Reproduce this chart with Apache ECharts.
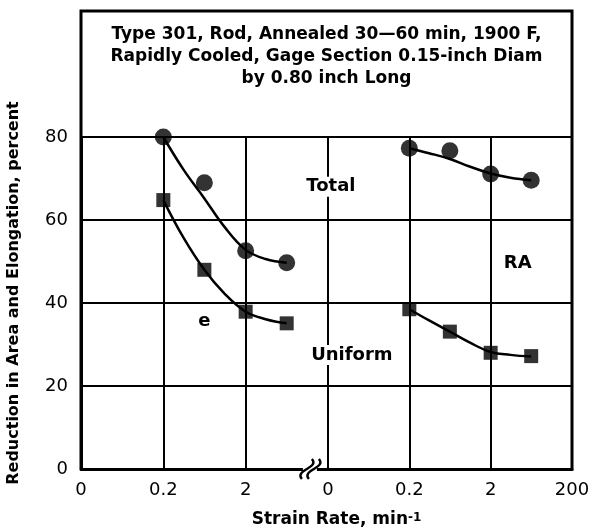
<!DOCTYPE html>
<html>
<head>
<meta charset="utf-8">
<script src="https://cdn.jsdelivr.net/npm/echarts@6/dist/echarts.min.js"></script>
<style>html,body{margin:0;padding:0;background:#fff;}#c{width:596px;height:531px;}</style>
</head>
<body>
<div id="c"></div>
<script>
// ---- data ----
const titleLines = ["Type 301, Rod, Annealed 30\u201460 min, 1900 F,", "Rapidly Cooled, Gage Section 0.15-inch Diam", "by 0.80 inch Long"];
const yTitle = "Reduction in Area and Elongation, percent";
const xTitle = "Strain Rate, min";
const leftTickLabels = ["0", "0.2", "2", ""];
const rightTickLabels = ["0", "0.2", "2", "200"];
// measured points
const strainRate = [0.2, 0.63, 2, 6.3];
const leftTotal = [80, 69, 52.6, 49.7];
const leftUniform = [64.8, 48, 37.9, 35.1];
const rightTotal = [77.3, 76.7, 71.1, 69.6];
const rightUniform = [38.5, 33.1, 28.0, 27.2];
// faired curves at these strain rates
const curveRate = [0.2, 0.35, 0.63, 1.1, 2, 3.5, 6.3];
const leftTotalCurve = [80, 72.2, 65.2, 58.4, 52.8, 50.6, 49.7];
const leftUniformCurve = [64.8, 55.8, 48, 42.3, 37.9, 36.1, 35.1];
const rightTotalCurve = [77.3, 76.1, 74.7, 72.9, 71.2, 70.2, 69.6];
const rightUniformCurve = [38.5, 35.8, 33.1, 30.5, 28.2, 27.5, 27.1];
const yTicks = [0, 20, 40, 60, 80];

const FONT = '"DejaVu Sans", Verdana, sans-serif';
const pairs = (xs, ys) => xs.map((x, i) => [x, ys[i]]);

const chart = echarts.init(document.getElementById('c'), null, {renderer: 'canvas'});

function helperAxis(gridIndex, labels) {
  return {
    type: 'value', gridIndex, position: 'bottom', min: 0, max: labels.length - 1, interval: 1,
    axisLine: {show: true, lineStyle: {color: '#000', width: 3}},
    axisTick: {show: false},
    axisLabel: {show: true, color: '#000', fontSize: 18, fontFamily: FONT, margin: 12,
      formatter: v => labels[Math.round(v)] ?? ''},
    splitLine: {show: true, lineStyle: {color: '#000', width: 2}}
  };
}
function logAxis(gridIndex) {
  return {type: 'log', logBase: 10, gridIndex, min: 0.02, max: 20, show: false};
}
function curve(xi, yi, ys) {
  return {type: 'line', xAxisIndex: xi, yAxisIndex: yi, data: pairs(curveRate, ys), smooth: 0.4, showSymbol: false,
    lineStyle: {color: '#000', width: 2.5}, z: 3, silent: true};
}
function marks(xi, yi, ys, symbol, size) {
  return {type: 'scatter', xAxisIndex: xi, yAxisIndex: yi, data: pairs(strainRate, ys), symbol, symbolSize: size,
    itemStyle: {color: '#000'}, z: 4};
}

const option = {
  animation: false,
  backgroundColor: '#fff',
  grid: [
    {left: 81, top: 137, width: 247, bottom: 62},
    {left: 328, top: 137, right: 24, bottom: 62}
  ],
  xAxis: [logAxis(0), helperAxis(0, leftTickLabels), logAxis(1), helperAxis(1, rightTickLabels)],
  yAxis: [
    {type: 'value', gridIndex: 0, min: yTicks[0], max: yTicks[yTicks.length - 1], interval: 20,
      axisLine: {show: true, lineStyle: {color: '#000', width: 3}},
      axisTick: {show: false},
      axisLabel: {color: '#000', fontSize: 18, fontFamily: FONT, margin: 13},
      splitLine: {show: true, lineStyle: {color: '#000', width: 2}}},
    {type: 'value', gridIndex: 1, min: yTicks[0], max: yTicks[yTicks.length - 1], interval: 20,
      axisLine: {show: false}, axisTick: {show: false}, axisLabel: {show: false},
      splitLine: {show: true, lineStyle: {color: '#000', width: 2}}}
  ],
  series: [
    curve(0, 0, leftTotalCurve),
    curve(0, 0, leftUniformCurve),
    curve(2, 1, rightTotalCurve),
    curve(2, 1, rightUniformCurve),
    marks(0, 0, leftTotal, 'circle', 17),
    marks(0, 0, leftUniform, 'rect', 14),
    marks(2, 1, rightTotal, 'circle', 17),
    marks(2, 1, rightUniform, 'rect', 14)
  ]
};
chart.setOption(option);

// ---- decorations tied to the axes ----
const xL = chart.convertToPixel({xAxisIndex: 1}, 0);
const xR = chart.convertToPixel({xAxisIndex: 3}, 3);
const yB = chart.convertToPixel({yAxisIndex: 0}, 0);
const yT = chart.convertToPixel({yAxisIndex: 0}, 80);
const boxTop = yT - 126;
const xBreak = chart.convertToPixel({xAxisIndex: 1}, 2.78);
const at = (x, y, gi) => [chart.convertToPixel({xAxisIndex: gi === 1 ? 2 : 0}, x), chart.convertToPixel({yAxisIndex: gi}, y)];

function note(text, pos) {
  return {type: 'text', z: 50, style: {text, x: pos[0], y: pos[1], align: 'center', verticalAlign: 'middle',
    font: 'bold 18px ' + FONT, fill: '#000', backgroundColor: '#fff', padding: [1, 2]}};
}
function squiggle(ox, cy) {
  return {type: 'bezierCurve', z: 71, shape: {x1: ox - 5, y1: cy + 10, cpx1: ox - 13, cpy1: cy + 1, cpx2: ox + 13, cpy2: cy - 1, x2: ox + 5, y2: cy - 10},
    style: {stroke: '#000', lineWidth: 2.4, fill: null}};
}

chart.setOption({
  graphic: [
    {type: 'polyline', z: 60, shape: {points: [[xL, yB], [xL, boxTop], [xR, boxTop], [xR, yB + 1.5]]},
      style: {stroke: '#000', lineWidth: 3, fill: null}},
    {type: 'text', z: 50, style: {text: titleLines.join('\n'), x: (xL + xR) / 2, y: boxTop + 13, align: 'center', verticalAlign: 'top',
      font: 'bold 17px ' + FONT, lineHeight: 22, fill: '#000'}},
    {type: 'text', z: 50, rotation: Math.PI / 2, x: 14, y: (yB + yT) / 2 - 10,
      style: {text: yTitle, x: 0, y: 0, align: 'center', verticalAlign: 'middle', font: 'bold 16px ' + FONT, fill: '#000'}},
    {type: 'text', z: 50, style: {text: xTitle + '{s|-1}', x: (xL + xR) / 2 + 10, y: yB + 51, align: 'center', verticalAlign: 'middle',
      font: 'bold 17px ' + FONT, fill: '#000', rich: {s: {fontSize: 12, fontWeight: 'bold', fontFamily: FONT, verticalAlign: 'top', lineHeight: 12, fill: '#000'}}}},
    note('Total', at(21.7, 68, 0)),
    note('Uniform', at(39, 27.5, 0)),
    note('RA', at(4.3, 49.6, 1)),
    note('e', at(0.63, 35.5, 0)),
    {type: 'rect', z: 70, shape: {x: xBreak - 7, y: yB - 5, width: 14, height: 10}, style: {fill: '#fff'}},
    squiggle(xBreak - 3, yB),
    squiggle(xBreak + 4, yB)
  ]
});
</script>
</body>
</html>
